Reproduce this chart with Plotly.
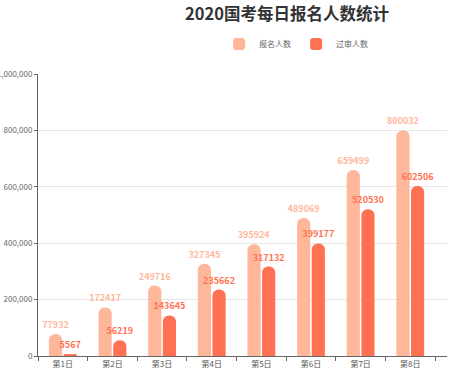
import plotly.graph_objects as go

days = ["第1日", "第2日", "第3日", "第4日", "第5日", "第6日", "第7日", "第8日"]
registered = [77932, 172417, 249716, 327345, 395924, 489069, 659499, 800032]
approved = [5567, 56219, 143645, 235662, 317132, 399177, 520530, 602506]
y_ticks = [0, 200000, 400000, 600000, 800000, 1000000]
y_tick_labels = ["0", "200,000", "400,000", "600,000", "800,000", "1,000,000"]

FONT = "Noto Sans CJK SC"
C_LIGHT = "#FFB79B"
C_DARK = "#FF7152"

fig = go.Figure()
fig.add_trace(go.Bar(
    name="报名人数", x=days, y=registered, marker_color=C_LIGHT,
    text=[str(v) for v in registered], textposition="outside",
    textfont=dict(family=FONT, size=9, color=C_LIGHT, weight="bold"),
    cliponaxis=False,
))
fig.add_trace(go.Bar(
    name="过审人数", x=days, y=approved, marker_color=C_DARK,
    text=[str(v) for v in approved], textposition="outside",
    textfont=dict(family=FONT, size=9, color=C_DARK, weight="bold"),
    cliponaxis=False,
))

fig.update_layout(
    template="none",
    width=450, height=376,
    margin=dict(l=38, r=3, t=74, b=20),
    paper_bgcolor="white", plot_bgcolor="white",
    font=dict(family=FONT, color="#666"),
    title=dict(text="<b>2020国考每日报名人数统计</b>", x=287/450, xanchor="center",
               y=1 - 14/376, yanchor="middle",
               font=dict(family=FONT, size=16.5, color="#333")),
    barmode="group", bargap=0.41, bargroupgap=0.1,
    barcornerradius="50%",
    uniformtext=dict(mode="show", minsize=9),
    legend=dict(orientation="h", x=284/450, xanchor="center", y=1 - 44/376, yanchor="middle",
                yref="container", font=dict(family=FONT, size=8, color="#666"),
                itemwidth=30, traceorder="normal"),
    showlegend=True,
)
fig.update_xaxes(
    range=[-0.5, 7.74], showline=True, linecolor="#666", linewidth=1,
    ticks="outside", tickson="boundaries", ticklen=4, tickcolor="#666",
    showgrid=False, automargin=False,
    tickfont=dict(family=FONT, size=8, color="#555"),
)
fig.update_yaxes(
    range=[0, 1000000], tickvals=y_ticks, ticktext=y_tick_labels,
    showline=True, linecolor="#666", linewidth=1,
    ticks="outside", ticklen=3, tickcolor="#666",
    showgrid=True, gridcolor="#e6e6e6", gridwidth=1, zeroline=False,
    automargin=False,
    tickfont=dict(family=FONT, size=8, color="#666"),
)

fig.write_html("out.html", config={"displayModeBar": False},
               post_script="document.body.style.margin='0';")
